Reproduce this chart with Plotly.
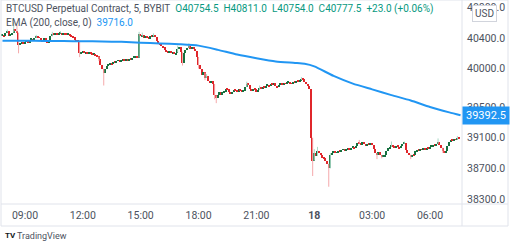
import pandas as pd
import plotly.graph_objects as go

# ---------------- data (5-minute candles) ----------------
start_time = "2022-04-17 07:50"
first_open = 40430
closes = [
    40440, 40420, 40470, 40490, 40430, 40450, 40470, 40520, 40490, 40470,
    40310, 40330, 40350, 40320, 40350, 40360, 40340, 40380, 40390, 40360,
    40400, 40420, 40410, 40400, 40380, 40360, 40400, 40370, 40340, 40360,
    40420, 40450, 40440, 40460, 40450, 40460, 40470, 40450, 40460, 40450,
    40440, 40450, 40430, 40420, 40410, 40380, 40360, 40350, 40200, 40210,
    40230, 40200, 40220, 40190, 40220, 40200, 40180, 40190, 40170, 40160,
    40130, 40050, 40000, 39940, 39990, 40040, 40050, 40070, 40060, 40090,
    40080, 40100, 40110, 40090, 40110, 40120, 40100, 40120, 40110, 40130,
    40120, 40140, 40150, 40160, 40140, 40450, 40420, 40440, 40400, 40420,
    40410, 40390, 40430, 40420, 40440, 40410, 40360, 40330, 40320, 40300,
    40280, 40240, 40220, 40210, 40230, 40200, 40220, 40190, 40210, 40260,
    40280, 40220, 40070, 40200, 40240, 40270, 40290, 40260, 40280, 40250,
    40230, 40150, 40050, 39990, 39920, 39950, 39880, 39900, 39840, 39820,
    39840, 39800, 39650, 39620, 39660, 39700, 39650, 39690, 39700, 39740,
    39730, 39700, 39680, 39690, 39720, 39710, 39700, 39730, 39720, 39700,
    39710, 39760, 39800, 39790, 39740, 39720, 39740, 39730, 39700, 39720,
    39750, 39740, 39760, 39750, 39780, 39790, 39770, 39800, 39790, 39810,
    39780, 39760, 39790, 39800, 39790, 39810, 39800, 39820, 39830, 39810,
    39800, 39830, 39820, 39840, 39830, 39850, 39870, 39860, 39830, 39800,
    39780, 39740, 39100, 38800, 38900, 38860, 38930, 38900, 38870, 38840,
    38830, 38790, 38760, 38700, 38880, 38900, 38920, 38900, 38910, 38930,
    38920, 38940, 38950, 38930, 38940, 38960, 38950, 38970, 38980, 38960,
    38990, 39030, 39020, 39010, 39040, 39020, 39000, 39020, 39010, 39030,
    39000, 38950, 38900, 38880, 38910, 38870, 38850, 38860, 38880, 38920,
    38960, 38980, 39000, 38980, 38970, 38990, 38980, 38960, 38990, 39020,
    39030, 38940, 38900, 38880, 38860, 38880, 38870, 38920, 38940, 38930,
    38950, 38940, 38960, 38950, 38970, 38960, 38980, 38990, 39010, 39000,
    39020, 39040, 39010, 38970, 38930, 38910, 38920, 38990, 39050, 39070,
    39060, 39080, 39070, 39090, 39085,
]
# notable wick extremes (bar index -> price)
wick_highs = {3: 40510, 7: 40610, 9: 40570, 21: 40440, 31: 40480, 36: 40490,
              85: 40480, 87: 40470, 94: 40460, 109: 40300, 116: 40330,
              124: 39980, 127: 39930, 152: 39830, 160: 39780, 186: 39890,
              194: 38950, 196: 38980, 204: 38900, 222: 39070, 242: 39050,
              250: 39050, 271: 39090, 283: 39120}
wick_lows = {10: 40200, 48: 40150, 60: 40100, 63: 39780, 112: 40040,
             122: 40000, 126: 39850, 132: 39600, 133: 39550, 193: 38600,
             203: 38460, 233: 38820, 236: 38830, 254: 38820, 274: 38900}

ema_times = ["2022-04-17 07:50", "2022-04-17 09:00", "2022-04-17 10:00",
             "2022-04-17 11:00", "2022-04-17 12:00", "2022-04-17 13:00",
             "2022-04-17 14:00", "2022-04-17 15:00", "2022-04-17 16:00",
             "2022-04-17 17:00", "2022-04-17 18:00", "2022-04-17 19:00",
             "2022-04-17 20:00", "2022-04-17 21:00", "2022-04-17 22:00",
             "2022-04-17 23:00", "2022-04-17 23:30", "2022-04-18 00:00",
             "2022-04-18 01:00", "2022-04-18 02:00", "2022-04-18 03:00",
             "2022-04-18 04:00", "2022-04-18 05:00", "2022-04-18 06:00",
             "2022-04-18 07:00", "2022-04-18 07:35"]
ema_values = [40365, 40363, 40361, 40359, 40357, 40354, 40349, 40338, 40328,
              40318, 40300, 40245, 40183, 40135, 40093, 40074, 40063, 40030,
              39905, 39805, 39730, 39655, 39585, 39500, 39430, 39392.5]

price_ticks = [38300, 38700, 39100, 39500, 40000, 40400, 40800]
time_tick_times = ["2022-04-17 09:00", "2022-04-17 12:00", "2022-04-17 15:00",
                   "2022-04-17 18:00", "2022-04-17 21:00", "2022-04-18 00:00",
                   "2022-04-18 03:00", "2022-04-18 06:00"]
time_tick_labels = ["09:00", "12:00", "15:00", "18:00", "21:00", "<b>18</b>",
                    "03:00", "06:00"]
last_ema_label = "39392.5"

# ---------------- build ----------------
times = pd.date_range(start_time, periods=len(closes), freq="5min")
opens = [first_open] + closes[:-1]
UP_BODY, DN_BODY = "#17703f", "#e0262b"
UP_WICK, DN_WICK = "#a9d8c6", "#f5a9ab"

bases, heights, colors = [], [], []
wx_up, wy_up, wx_dn, wy_dn = [], [], [], []
for i, (t, o, c) in enumerate(zip(times, opens, closes)):
    up = c >= o
    lo_b, hi_b = min(o, c), max(o, c)
    h = max(hi_b - lo_b, 12)
    bases.append(lo_b)
    heights.append(h)
    colors.append(UP_BODY if up else DN_BODY)
    hi = max(wick_highs.get(i, hi_b), hi_b)
    lo = min(wick_lows.get(i, lo_b), lo_b)
    if hi > hi_b or lo < lo_b:
        if up:
            wx_up += [t, t, None]; wy_up += [lo, hi, None]
        else:
            wx_dn += [t, t, None]; wy_dn += [lo, hi, None]

fig = go.Figure()
fig.add_trace(go.Scatter(x=wx_up, y=wy_up, mode="lines",
                         line=dict(color=UP_WICK, width=1), hoverinfo="skip"))
fig.add_trace(go.Scatter(x=wx_dn, y=wy_dn, mode="lines",
                         line=dict(color=DN_WICK, width=1), hoverinfo="skip"))
fig.add_trace(go.Bar(x=times, y=heights, base=bases,
                     marker=dict(color=colors, line=dict(width=0)),
                     width=5 * 60 * 1000 * 0.9))
fig.add_trace(go.Scatter(x=pd.to_datetime(ema_times), y=ema_values,
                         mode="lines", line=dict(color="#2196f3", width=2,
                                                 shape="spline", smoothing=0.6)))

FONT = "Roboto"
TXT = "#4c525e"
W, H = 512, 244
L, R, T, B = 1, 50, 0, 40
PW, PH = W - L - R, H - T - B


def px(xp):
    return (xp - L) / PW


def py(yp):
    return (PH - yp) / PH


fig.update_layout(
    width=W, height=H, margin=dict(l=L, r=R, t=T, b=B),
    paper_bgcolor="white", plot_bgcolor="white", showlegend=False,
    font=dict(family=FONT, size=10, color=TXT),
    xaxis=dict(type="date",
               range=["2022-04-17 07:45:24", "2022-04-18 07:39:30"],
               showgrid=False, zeroline=False, showline=False,
               tickvals=pd.to_datetime(time_tick_times),
               ticktext=time_tick_labels, ticks="",
               tickfont=dict(family=FONT, size=10.5, color=TXT),
               ticklabelstandoff=3),
    yaxis=dict(range=[38235, 40895], side="right", showgrid=False,
               zeroline=False, showline=False, ticks="",
               tickvals=price_ticks,
               ticktext=[f"{v:.1f}" for v in price_ticks],
               tickfont=dict(family=FONT, size=10.5, color=TXT),
               ticklabelstandoff=4),
    bargap=0,
)

BORDER = "#e0e3eb"
shapes = [
    dict(type="rect", xref="paper", yref="paper", x0=px(1), x1=px(508),
         y0=py(0), y1=py(226), line=dict(color=BORDER, width=1)),
    dict(type="line", xref="paper", yref="paper", x0=px(1), x1=px(508),
         y0=py(204), y1=py(204), line=dict(color=BORDER, width=1)),
    dict(type="line", xref="paper", yref="paper", x0=px(462), x1=px(462),
         y0=py(0), y1=py(226), line=dict(color=BORDER, width=1)),
]
fig.update_layout(shapes=shapes)

anns = [
    dict(xref="paper", yref="paper", x=px(4), y=py(9), xanchor="left",
         yanchor="middle", showarrow=False,
         text=("BTCUSD Perpetual Contract, 5, BYBIT&nbsp;&nbsp;"
               "<span style='color:#089981'>O40754.5&nbsp;&nbsp;H40811.0&nbsp;&nbsp;"
               "L40754.0&nbsp;&nbsp;C40777.5&nbsp;&nbsp;+23.0 (+0.06%)</span>"),
         font=dict(family=FONT, size=10, color="#4c525e")),
    dict(xref="paper", yref="paper", x=px(4), y=py(22.5), xanchor="left",
         yanchor="middle", showarrow=False,
         text=("EMA (200, close, 0)&nbsp;&nbsp;"
               "<span style='color:#2196f3'>39716.0</span>"),
         font=dict(family=FONT, size=10, color="#4c525e")),
    dict(xref="paper", yref="paper", x=px(484.5), y=py(13), xanchor="center",
         yanchor="middle", showarrow=False, text="USD",
         bgcolor="white", bordercolor="#d1d4dc", borderwidth=1, borderpad=2,
         font=dict(family=FONT, size=10, color="#4c525e")),
    dict(xref="paper", yref="y", x=px(462), y=39392.5, xanchor="left",
         yanchor="middle", showarrow=False, text=last_ema_label,
         bgcolor="#2196f3", borderpad=2, width=42,
         font=dict(family=FONT, size=11, color="white")),
    dict(xref="paper", yref="paper", x=px(3), y=py(236), xanchor="left",
         yanchor="middle", showarrow=False, text="<b>TV</b>",
         font=dict(family=FONT, size=8, color="#131722")),
    dict(xref="paper", yref="paper", x=px(15), y=py(236), xanchor="left",
         yanchor="middle", showarrow=False, text="TradingView",
         font=dict(family=FONT, size=9, color="#4c525e")),
]
fig.update_layout(annotations=anns)

fig.write_html("out.html")
